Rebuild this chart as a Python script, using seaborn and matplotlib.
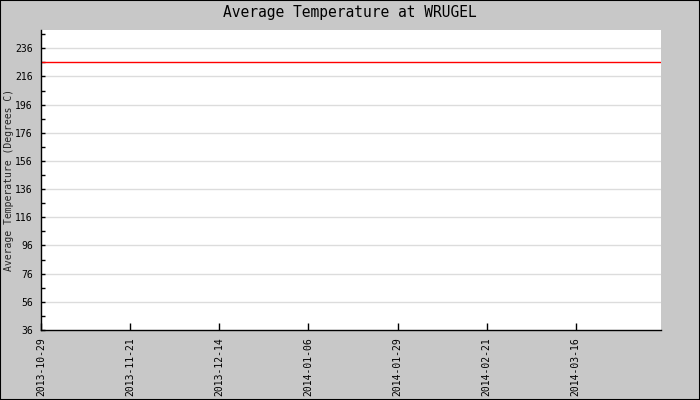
import pandas as pd
import matplotlib.pyplot as plt
import matplotlib.dates as mdates
import matplotlib.ticker as mticker
import seaborn as sns

# data
dates = ['2013-10-29', '2013-11-21', '2013-12-14', '2014-01-06',
         '2014-01-29', '2014-02-21', '2014-03-16', '2014-04-07']
temps = [226, 226, 226, 226, 226, 226, 226, 226]
tick_dates = ['2013-10-29', '2013-11-21', '2013-12-14', '2014-01-06',
              '2014-01-29', '2014-02-21', '2014-03-16']
y_ticks = [36, 56, 76, 96, 116, 136, 156, 176, 196, 216, 236]

df = pd.DataFrame({'date': pd.to_datetime(dates), 'temp': temps})

sns.set_style('white')
plt.rcParams['font.family'] = ['DejaVu Sans Mono']

fig = plt.figure(figsize=(7, 4), dpi=100, facecolor='#c8c8c8')
ax = fig.add_axes([41 / 700, 70 / 400, 620 / 700, 300 / 400])
ax.set_facecolor('white')

for y in y_ticks[1:]:
    ax.axhline(y, color='#dcdcdc', lw=1, zorder=0)

sns.lineplot(data=df, x='date', y='temp', color='red', lw=1, ax=ax)

ax.set_xlim(pd.Timestamp('2013-10-29'), pd.Timestamp('2014-04-07'))
ax.set_ylim(36, 249)
ax.set_yticks(y_ticks)
ax.yaxis.set_minor_locator(mticker.FixedLocator(range(46, 249, 20)))
ax.set_xticks(pd.to_datetime(tick_dates))
ax.xaxis.set_major_formatter(mdates.DateFormatter('%Y-%m-%d'))
plt.setp(ax.get_xticklabels(), rotation=90)

ax.tick_params(axis='x', direction='in', length=5, width=1, color='black',
               labelsize=7, pad=5, bottom=True, labelcolor='black')
ax.tick_params(axis='y', which='both', direction='in', length=3, width=1,
               color='black', labelsize=7, pad=6, left=True, labelcolor='black')

for s in ['top', 'right']:
    ax.spines[s].set_visible(False)
for s in ['bottom', 'left']:
    ax.spines[s].set_color('black')
    ax.spines[s].set_linewidth(1)

ax.set_xlabel('')
ax.set_ylabel('')
fig.text(9 / 700, 1 - 180 / 400, 'Average Temperature (Degrees C)', rotation=90,
         ha='center', va='center', fontsize=7)
fig.text(0.5, 1 - 12 / 400, 'Average Temperature at WRUGEL', ha='center',
         va='center', fontsize=10.5, color='black')

border = plt.Rectangle((0, 0), 1, 1, transform=fig.transFigure, fill=False,
                       edgecolor='black', lw=1.5)
fig.patches.append(border)

fig.savefig('out.png', dpi=100, facecolor=fig.get_facecolor())
